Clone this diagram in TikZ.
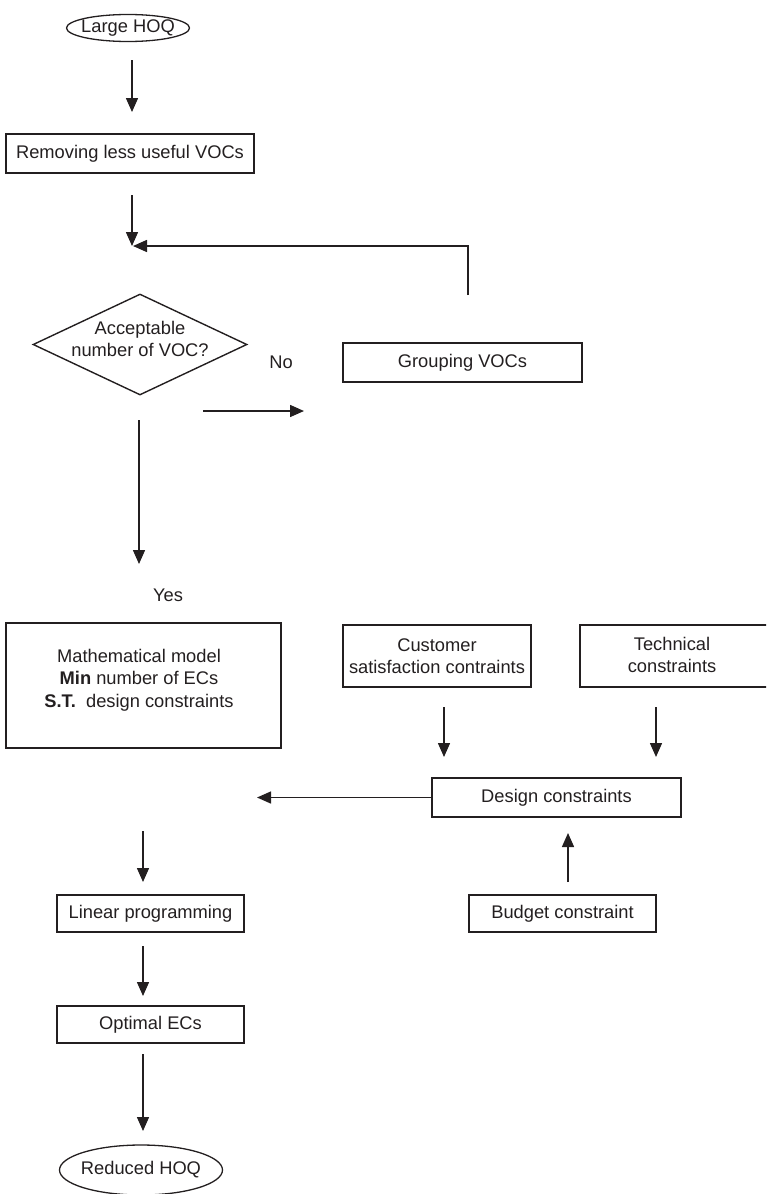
\documentclass[tikz,border=0pt]{standalone}
\usepackage{fontspec}
\setmainfont{Liberation Sans}
\usetikzlibrary{arrows.meta,shapes.geometric}
\definecolor{ink}{RGB}{35,31,32}
\begin{document}
\begin{tikzpicture}[x=1pt,y=-1pt,
  every node/.style={font=\fontsize{18.3}{22.5}\selectfont, text=ink},
  box/.style={draw=ink, line width=1.8pt, rectangle, inner sep=0pt, align=center},
  oval/.style={draw=ink, line width=1.3pt, ellipse, inner sep=0pt},
  rhomb/.style={draw=ink, line width=1.4pt, diamond, inner sep=0pt},
  txt/.style={inner sep=0pt, align=center},
  flow/.style={draw=ink, line width=1.5pt, -{Triangle[length=14pt,width=12pt]}},
]
\useasboundingbox (0,0) rectangle (766,1194);
\clip (0,0) rectangle (766,1194);

% start / end terminals
\node[oval, minimum width=123pt, minimum height=27pt] (large) at (128,28) {};
\node[txt] (largetext) at (large.center) {Large HOQ};
\node[oval, minimum width=163pt, minimum height=50pt] (reduced) at (141,1170) {};
\node[txt] (reducedtext) at (reduced.center) {Reduced HOQ};

% process boxes
\node[box, minimum width=248pt, minimum height=39pt] (remove) at (130,153.5) {Removing less useful VOCs};
\node[rhomb, minimum width=214pt, minimum height=101pt] (decide) at (140,344.5) {};
\node[txt] (decidetext) at (140,339) {Acceptable\\number of VOC?};
\node[txt] (no) at (281,362) {No};
\node[box, minimum width=239pt, minimum height=39pt] (group) at (462.5,362.5) {Grouping VOCs};
\node[txt] (yes) at (168,595) {Yes};

\node[box, minimum width=275pt, minimum height=125pt] (model) at (143.5,685.5) {};
\node[txt] (modeltext) at (139,680) {Mathematical model\\\textbf{Min} number of ECs\\\textbf{S.T.}\ \ design constraints};
\node[box, minimum width=188pt, minimum height=62pt] (cust) at (437,656) {Customer\\satisfaction contraints};
\node[box, minimum width=220pt, minimum height=62pt] (tech) at (690,656) {};
\node[txt] (techtext) at (672,655) {Technical\\constraints};
\node[box, minimum width=249pt, minimum height=39pt] (design) at (556.5,797.5) {Design constraints};
\node[box, minimum width=187pt, minimum height=37pt] (linear) at (150.5,913.5) {Linear programming};
\node[box, minimum width=187pt, minimum height=37pt] (budget) at (562.5,913.5) {Budget constraint};
\node[box, minimum width=187pt, minimum height=37pt] (optimal) at (150.5,1024.5) {Optimal ECs};

% connector end points
\coordinate (a1s) at (132,60);   \coordinate (a1e) at (132,112);
\coordinate (a2s) at (132,195);  \coordinate (merge) at (132,246);
\coordinate (loops) at (468,295); \coordinate (loopc) at (468,246);
\coordinate (nos) at (203,411);  \coordinate (noe) at (304,411);
\coordinate (yess) at (139,420); \coordinate (yese) at (139,564);
\coordinate (cs) at (444,707);   \coordinate (ce) at (444,757);
\coordinate (ts) at (656,707);   \coordinate (te) at (656,757);
\coordinate (din) at (257,797.5);
\coordinate (l1s) at (143,831);  \coordinate (l1e) at (143,882);
\coordinate (bs) at (568,882);   \coordinate (be) at (568,833);
\coordinate (l2s) at (143,946);  \coordinate (l2e) at (143,996);
\coordinate (l3s) at (143,1054); \coordinate (l3e) at (143,1131);

% connectors
\draw[flow] (a1s) -- (a1e);
\draw[flow] (a2s) -- (merge);
\draw[flow] (loops) -- (loopc) -- ([xshift=1pt]merge);
\draw[flow] (nos) -- (noe);
\draw[flow] (yess) -- (yese);
\draw[flow] (cs) -- (ce);
\draw[flow] (ts) -- (te);
\draw[flow] (design.west) -- (din);
\draw[flow] (l1s) -- (l1e);
\draw[flow] (bs) -- (be);
\draw[flow] (l2s) -- (l2e);
\draw[flow] (l3s) -- (l3e);
\end{tikzpicture}
\end{document}
